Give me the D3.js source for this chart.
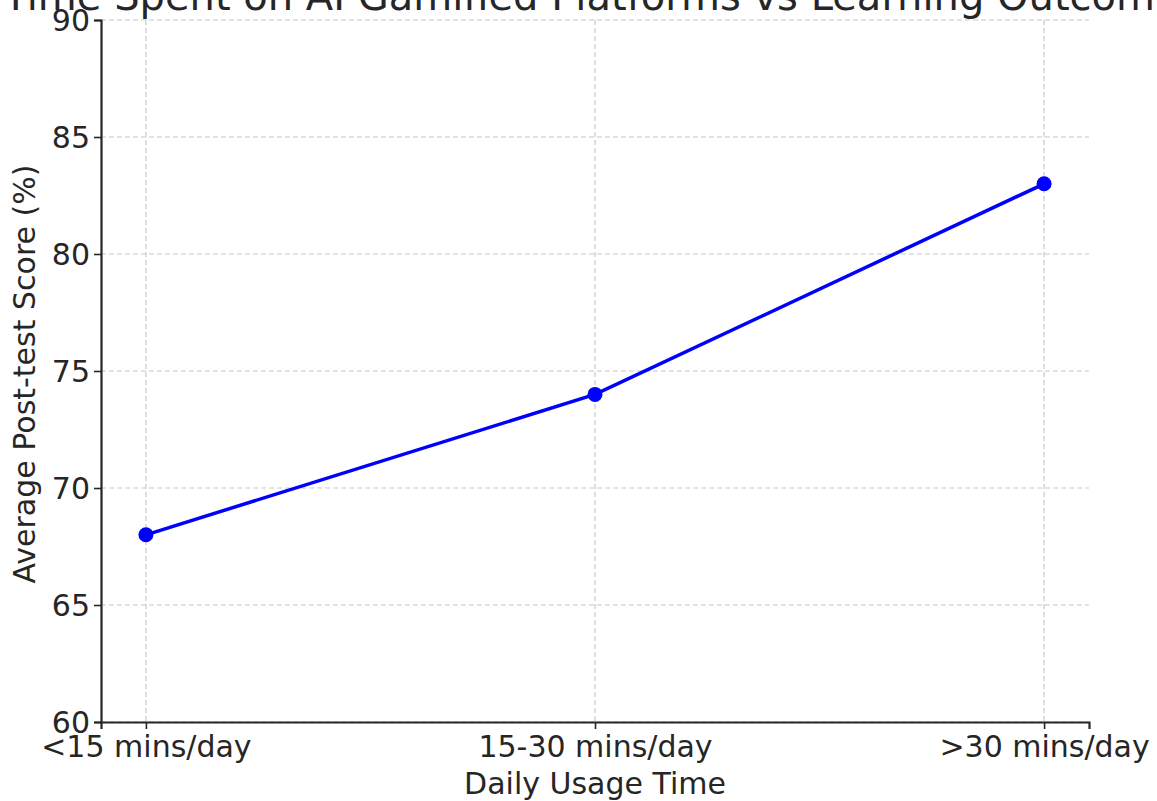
<!DOCTYPE html>
<html>
<head>
<meta charset="utf-8">
<script src="https://cdn.jsdelivr.net/npm/d3@7"></script>
<style>
  html, body { margin: 0; padding: 0; background: #fff; }
  svg { display: block; font-family: "DejaVu Sans", sans-serif; }
</style>
</head>
<body>
<svg id="chart" width="1157" height="801"></svg>
<script>
// Daily usage buckets and the average post-test score for each
const categories = ["<15 mins/day", "15-30 mins/day", ">30 mins/day"];
const scores = [68, 74, 83];
const yTicks = [60, 65, 70, 75, 80, 85, 90];

const chartTitle = "Time Spent on AI Gamified Platforms vs Learning Outcomes";
const xLabel = "Daily Usage Time";
const yLabel = "Average Post-test Score (%)";

const svg = d3.select("#chart");
const margin = { left: 101, right: 1089, top: 20, bottom: 722 };
const textColor = "#262626";

// Point positions with a 5% pad on either side of the index range
const x = d3.scaleLinear().domain([-0.1, 2.1]).range([margin.left, margin.right]);
const y = d3.scaleLinear().domain([60, 90]).range([margin.bottom, margin.top]);

// Grid lines
const grid = svg.append("g");
grid.selectAll("line.h").data(yTicks).join("line")
  .attr("x1", margin.left).attr("x2", margin.right)
  .attr("y1", d => y(d)).attr("y2", d => y(d))
  .attr("stroke", "#c8c8c8").attr("stroke-width", 1.2).attr("stroke-dasharray", "5,3");
grid.selectAll("line.v").data(categories).join("line")
  .attr("x1", (d, i) => x(i)).attr("x2", (d, i) => x(i))
  .attr("y1", margin.top).attr("y2", margin.bottom)
  .attr("stroke", "#c8c8c8").attr("stroke-width", 1.2).attr("stroke-dasharray", "5,3");

// Axes
const xAxis = d3.axisBottom(x)
  .tickValues(categories.map((d, i) => i))
  .tickFormat(i => categories[i])
  .tickSizeOuter(0).tickSize(7).tickPadding(4);
const yAxis = d3.axisLeft(y)
  .tickValues(yTicks).tickSizeOuter(0).tickSize(7).tickPadding(4);

const gx = svg.append("g").attr("transform", `translate(0,${margin.bottom})`).call(xAxis);
const gy = svg.append("g").attr("transform", `translate(${margin.left},0)`).call(yAxis);
[gx, gy].forEach(g => {
  g.select(".domain").attr("stroke", textColor).attr("stroke-width", 2.2);
  g.selectAll(".tick line").attr("stroke", textColor).attr("stroke-width", 1.6);
  g.selectAll(".tick text").attr("fill", textColor)
    .style("font-family", "'DejaVu Sans', sans-serif").style("font-size", "30px");
});
gx.selectAll(".tick text").attr("dy", "0.8em");
gy.selectAll(".tick text").attr("dy", "0.36em");

// Series line and markers
const line = d3.line().x((d, i) => x(i)).y(d => y(d));
svg.append("path").datum(scores)
  .attr("d", line).attr("fill", "none")
  .attr("stroke", "#0000ff").attr("stroke-width", 3.5);
svg.selectAll("circle.pt").data(scores).join("circle")
  .attr("cx", (d, i) => x(i)).attr("cy", d => y(d)).attr("r", 7.5)
  .attr("fill", "#0000ff");

// Title and axis labels
svg.append("text").text(chartTitle)
  .attr("x", 602).attr("y", 10)
  .attr("text-anchor", "middle").attr("fill", textColor)
  .style("font-size", "40px");
svg.append("text").text(xLabel)
  .attr("x", (margin.left + margin.right) / 2).attr("y", 794)
  .attr("text-anchor", "middle").attr("fill", textColor)
  .style("font-size", "30px");
svg.append("text").text(yLabel)
  .attr("transform", `translate(35,${(margin.top + margin.bottom) / 2 + 3}) rotate(-90)`)
  .attr("text-anchor", "middle").attr("fill", textColor)
  .style("font-size", "30px");
</script>
</body>
</html>
